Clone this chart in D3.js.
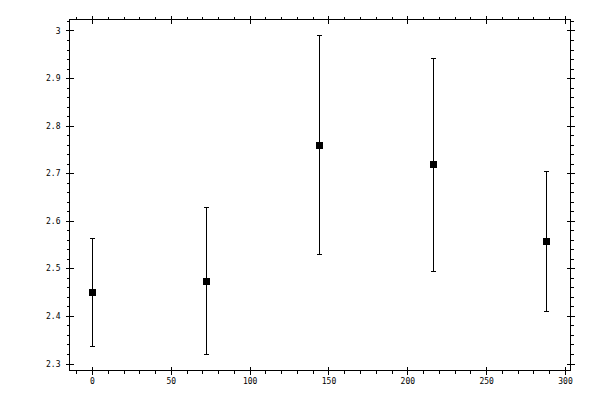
<!DOCTYPE html>
<html>
<head>
<meta charset="utf-8">
<script src="https://cdn.jsdelivr.net/npm/d3@7"></script>
<style>
  body { margin: 0; background: #fff; }
  svg { display: block; }
</style>
</head>
<body>
<svg id="chart" width="600" height="400"></svg>
<script>
// values
const xValues = [0, 72, 144, 216, 288];
const means = [2.451, 2.474, 2.760, 2.720, 2.558];
const upper = [2.564, 2.629, 2.990, 2.943, 2.705];
const lower = [2.336, 2.321, 2.531, 2.495, 2.411];

const xTicks = [0, 50, 100, 150, 200, 250, 300];
const yTicks = [2.3, 2.4, 2.5, 2.6, 2.7, 2.8, 2.9, 3];

const plot = { left: 69.5, right: 570.5, top: 19.5, bottom: 370.5 };

const svg = d3.select('#chart')
  .attr('shape-rendering', 'crispEdges');

const x = d3.scaleLinear()
  .domain([-14.27, 303.49])
  .range([plot.left, plot.right]);

const y = d3.scaleLinear()
  .domain([2.2853, 3.0231])
  .range([plot.bottom, plot.top]);

const xMinor = d3.range(-10, 301, 10).filter(d => d % 50 !== 0);
const yMinor = d3.range(115, 152, 1).map(d => d / 50).filter(d => Math.round(d * 50) % 5 !== 0);

const fmt = d => String(+d.toFixed(2));

// frame
svg.append('rect')
  .attr('x', plot.left).attr('y', plot.top)
  .attr('width', plot.right - plot.left).attr('height', plot.bottom - plot.top)
  .attr('fill', 'none')
  .attr('stroke', '#000');

// helper: draw an axis group at a position
function addAxis(axis, tx, ty, labels) {
  const g = svg.append('g')
    .attr('transform', `translate(${tx},${ty})`)
    .call(axis);
  g.select('.domain').remove();
  g.selectAll('.tick line').attr('stroke', '#000');
  g.selectAll('text')
    .attr('fill', '#000')
    .style('font-family', '"DejaVu Sans Mono", monospace')
    .style('font-size', '8px');
  if (!labels) g.selectAll('text').remove();
  return g;
}

// bottom
addAxis(d3.axisBottom(x).tickValues(xTicks).tickSize(4).tickPadding(4).tickFormat(fmt), 0, plot.bottom, true);
addAxis(d3.axisTop(x).tickValues(xTicks).tickSize(4), 0, plot.bottom, false);
addAxis(d3.axisBottom(x).tickValues(xMinor).tickSize(3), 0, plot.bottom, false);
// top
addAxis(d3.axisTop(x).tickValues(xTicks).tickSize(4), 0, plot.top, false);
addAxis(d3.axisBottom(x).tickValues(xTicks).tickSize(4), 0, plot.top, false);
addAxis(d3.axisTop(x).tickValues(xMinor).tickSize(3), 0, plot.top, false);
// left
addAxis(d3.axisLeft(y).tickValues(yTicks).tickSize(4).tickPadding(5).tickFormat(fmt), plot.left, 0, true);
addAxis(d3.axisRight(y).tickValues(yTicks).tickSize(4), plot.left, 0, false);
addAxis(d3.axisLeft(y).tickValues(yMinor).tickSize(3), plot.left, 0, false);
// right
addAxis(d3.axisRight(y).tickValues(yTicks).tickSize(4), plot.right, 0, false);
addAxis(d3.axisLeft(y).tickValues(yTicks).tickSize(4), plot.right, 0, false);
addAxis(d3.axisRight(y).tickValues(yMinor).tickSize(3), plot.right, 0, false);

// error bars
const pts = xValues.map((d, i) => ({ x: d, mean: means[i], hi: upper[i], lo: lower[i] }));
const px = d => Math.round(x(d.x)) + 0.5;

const bars = svg.append('g')
  .selectAll('g')
  .data(pts)
  .join('g');

bars.append('line')
  .attr('x1', px).attr('x2', px)
  .attr('y1', d => Math.round(y(d.hi)) + 0.5)
  .attr('y2', d => Math.round(y(d.lo)) + 0.5)
  .attr('stroke', '#000');

bars.append('line')
  .attr('x1', d => px(d) - 2.5).attr('x2', d => px(d) + 2.5)
  .attr('y1', d => Math.round(y(d.hi)) + 0.5)
  .attr('y2', d => Math.round(y(d.hi)) + 0.5)
  .attr('stroke', '#000');

bars.append('line')
  .attr('x1', d => px(d) - 2.5).attr('x2', d => px(d) + 2.5)
  .attr('y1', d => Math.round(y(d.lo)) + 0.5)
  .attr('y2', d => Math.round(y(d.lo)) + 0.5)
  .attr('stroke', '#000');

bars.append('rect')
  .attr('x', d => px(d) - 3.5)
  .attr('y', d => Math.round(y(d.mean)) - 3)
  .attr('width', 7)
  .attr('height', 7)
  .attr('fill', '#000');
</script>
</body>
</html>
